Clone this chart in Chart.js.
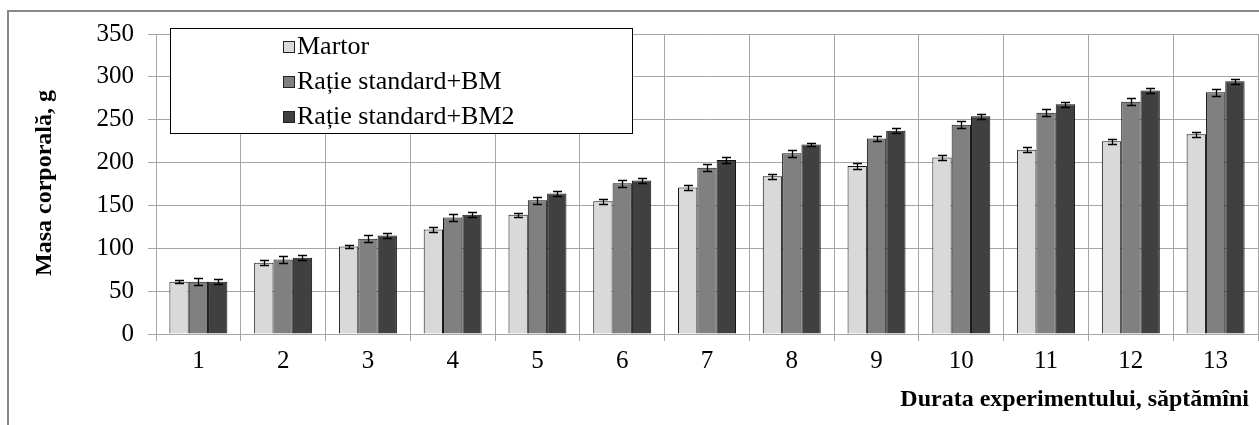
<!DOCTYPE html>
<html>
<head>
<meta charset="utf-8">
<script src="https://cdn.jsdelivr.net/npm/chart.js@4.4.0/dist/chart.umd.min.js"></script>
<style>
  html, body { margin: 0; padding: 0; background: #fff; }
</style>
</head>
<body>
<canvas id="c" width="1259" height="425"></canvas>
<script>
var weeks = ['1', '2', '3', '4', '5', '6', '7', '8', '9', '10', '11', '12', '13'];
var seriesNames = ['Martor', 'Rație standard+BM', 'Rație standard+BM2'];

// masa corporala, g
var martor = [61, 83, 102, 122, 139, 155, 171, 184, 196, 206, 215, 225, 233];
var bm     = [61, 87, 111, 136, 156, 176, 194, 211, 228, 244, 258, 271, 282];
var bm2    = [61, 89, 115, 139, 164, 179, 203, 221, 237, 254, 268, 284, 295];

// erori (+/-)
var martorErr = [2, 3, 2, 3, 2, 3, 3, 3, 4, 3, 3, 3, 3];
var bmErr     = [4, 4, 4, 4, 4, 4, 4, 4, 3, 4, 4, 4, 4];
var bm2Err    = [3, 3, 3, 3, 3, 3, 3, 2, 3, 3, 3, 3, 3];

var yTicks = [0, 50, 100, 150, 200, 250, 300, 350];

var SERIF = '"Liberation Serif", "Times New Roman", serif';
var GRID = '#a6a6a6';

var errs = [martorErr, bmErr, bm2Err];

var framePlugin = {
  id: 'frame',
  beforeDraw: function(chart) {
    var ctx = chart.ctx;
    ctx.save();
    ctx.fillStyle = '#fff';
    ctx.fillRect(0, 0, chart.width, chart.height);
    ctx.strokeStyle = '#888';
    ctx.lineWidth = 2;
    ctx.beginPath();
    ctx.moveTo(8, chart.height + 5);
    ctx.lineTo(8, 11);
    ctx.lineTo(chart.width + 5, 11);
    ctx.stroke();
    ctx.restore();
  }
};

var errorBars = {
  id: 'errorBars',
  afterDatasetsDraw: function(chart) {
    var ctx = chart.ctx, y = chart.scales.y;
    ctx.save();
    ctx.strokeStyle = '#000';
    ctx.lineWidth = 1.3;
    chart.data.datasets.forEach(function(ds, i) {
      chart.getDatasetMeta(i).data.forEach(function(bar, j) {
        var v = ds.data[j], e = errs[i][j];
        var t = Math.round(y.getPixelForValue(v + e)) + 0.5;
        var b = Math.round(y.getPixelForValue(v - e)) + 0.5;
        var x = Math.round(bar.x) + 0.5;
        ctx.beginPath();
        ctx.moveTo(x, t); ctx.lineTo(x, b);
        ctx.moveTo(x - 4.5, t); ctx.lineTo(x + 4.5, t);
        ctx.moveTo(x - 4.5, b); ctx.lineTo(x + 4.5, b);
        ctx.stroke();
      });
    });
    ctx.restore();
  }
};

var legendBox = {
  id: 'legendBox',
  afterDraw: function(chart) {
    var ctx = chart.ctx;
    ctx.save();
    ctx.fillStyle = '#fff';
    ctx.fillRect(170, 28, 462, 105);
    ctx.strokeStyle = '#000';
    ctx.lineWidth = 1;
    ctx.strokeRect(170.5, 28.5, 462, 105);
    ctx.font = '26px ' + SERIF;
    ctx.textBaseline = 'alphabetic';
    chart.data.datasets.forEach(function(ds, i) {
      var base = 54 + i * 35;
      ctx.fillStyle = ds.backgroundColor;
      ctx.fillRect(283, base - 13, 12, 12);
      ctx.strokeStyle = '#222';
      ctx.strokeRect(283.5, base - 12.5, 11, 11);
      ctx.fillStyle = '#000';
      ctx.fillText(ds.label, 297, base);
    });
    ctx.restore();
  }
};

var axisTitles = {
  id: 'axisTitles',
  afterDraw: function(chart) {
    var ctx = chart.ctx;
    ctx.save();
    ctx.fillStyle = '#000';
    ctx.font = 'bold 24px ' + SERIF;
    ctx.textBaseline = 'middle';
    ctx.textAlign = 'right';
    ctx.fillText('Durata experimentului, săptămîni', 1249, 400);
    ctx.translate(45, 183);
    ctx.rotate(-Math.PI / 2);
    ctx.textAlign = 'center';
    ctx.fillText('Masa corporală, g', 0, 0);
    ctx.restore();
  }
};

new Chart(document.getElementById('c'), {
  type: 'bar',
  data: {
    labels: weeks,
    datasets: [
      { label: seriesNames[0], data: martor, backgroundColor: '#d9d9d9' },
      { label: seriesNames[1], data: bm, backgroundColor: '#808080' },
      { label: seriesNames[2], data: bm2, backgroundColor: '#404040' }
    ].map(function(d) {
      d.borderColor = '#111';
      d.borderWidth = 1;
      d.categoryPercentage = 0.684;
      d.barPercentage = 1;
      return d;
    })
  },
  options: {
    responsive: false,
    animation: false,
    layout: { padding: { top: 34, right: 1, left: 0, bottom: 0 } },
    plugins: { legend: { display: false }, tooltip: { enabled: false } },
    scales: {
      x: {
        grid: { color: GRID, offset: true, tickLength: 7 },
        border: { color: GRID },
        ticks: { font: { family: SERIF, size: 25 }, color: '#000', padding: 5 },
        afterFit: function(s) { s.height = 91; }
      },
      y: {
        min: 0,
        max: 350,
        afterBuildTicks: function(s) { s.ticks = yTicks.map(function(v) { return { value: v }; }); },
        grid: { color: GRID, tickLength: 8 },
        border: { color: GRID },
        ticks: { font: { family: SERIF, size: 25 }, color: '#000', padding: 14 },
        afterFit: function(s) { s.width = 156; }
      }
    }
  },
  plugins: [framePlugin, errorBars, legendBox, axisTitles]
});
</script>
</body>
</html>
